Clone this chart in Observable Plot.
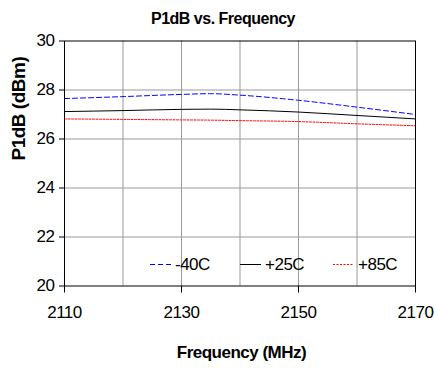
<!DOCTYPE html>
<html>
<head>
<meta charset="utf-8">
<script src="https://cdn.jsdelivr.net/npm/d3@7"></script>
<script src="https://cdn.jsdelivr.net/npm/@observablehq/plot@0.6"></script>
<style>
  body { margin: 0; background: #fff; font-family: "Liberation Sans", Arial, sans-serif; }
  #wrap { position: relative; width: 435px; height: 368px; }
  #title { height: 28px; box-sizing: border-box; padding-top: 10px; line-height: 18px; font-size: 16px; font-weight: bold; letter-spacing: -0.5px; text-align: center; padding-left: 11px; }
  .leg { position: absolute; top: 255px; height: 20px; display: flex; align-items: center; font-size: 17px; letter-spacing: -0.5px; }
  .leg svg { margin-right: 4px; }
</style>
</head>
<body>
<div id="wrap">
  <div id="title">P1dB vs. Frequency</div>
  <div id="chart"></div>
</div>
<script>
const freq = [2110, 2120, 2130, 2135, 2140, 2150, 2160, 2170];
const pm40 = [27.65, 27.73, 27.82, 27.85, 27.79, 27.58, 27.30, 27.00];
const p25  = [27.12, 27.16, 27.21, 27.22, 27.19, 27.10, 26.96, 26.82];
const p85  = [26.82, 26.80, 26.78, 26.77, 26.75, 26.71, 26.62, 26.54];
const seriesNames = ["-40C", "+25C", "+85C"];
const seriesColors = ["#0000ff", "#000000", "#ff0000"];
const seriesDash = ["5,3", null, "2,1.5"];
const xTicks = [2110, 2130, 2150, 2170];
const xGrid = [2120, 2130, 2140, 2150, 2160];
const yTicks = [20, 22, 24, 26, 28, 30];
const yGrid = [22, 24, 26, 28];

const allSeries = [pm40, p25, p85];
const lineMarks = allSeries.map((vals, i) =>
  Plot.lineY(freq.map((f, j) => ({f, v: vals[j]})), {
    x: "f", y: "v", stroke: seriesColors[i], strokeWidth: 1,
    strokeDasharray: seriesDash[i] || undefined, curve: "monotone-x"
  })
);

const chart = Plot.plot({
  width: 435,
  height: 340,
  marginTop: 12.5,
  marginLeft: 64,
  marginRight: 20,
  marginBottom: 82.5,
  style: { fontFamily: "Liberation Sans, Arial, sans-serif", background: "#fff" },
  x: { domain: [2110, 2170] },
  y: { domain: [20, 30] },
  marks: [
    Plot.gridX(xGrid, { stroke: "#999", strokeOpacity: 1 }),
    Plot.gridY(yGrid, { stroke: "#999", strokeOpacity: 1 }),
    ...lineMarks,
    Plot.frame({ stroke: "#000" }),
    Plot.axisX(xTicks, { tickSize: 7, tickPadding: 13, fontSize: 17, label: null, stroke: "#000", color: "#000", tickFormat: d => String(d) }),
    Plot.axisY(yTicks, { tickSize: 5, tickPadding: 5, fontSize: 17, label: null, stroke: "#000", color: "#000" }),
    Plot.text(["Frequency (MHz)"], { frameAnchor: "bottom", dy: 71.5, dx: 1.5, fontSize: 17, fontWeight: "bold", fill: "#000" }),
    Plot.text(["P1dB (dBm)"], { frameAnchor: "left", rotate: -90, dx: -46, dy: -3, fontSize: 19, fontWeight: "bold", fill: "#000" })
  ]
});
document.getElementById("chart").appendChild(chart);
chart.querySelectorAll("text").forEach(t => t.style.letterSpacing = "-0.5px");

// legend inside the plot area
const legLeft = [150, 240, 333];
const wrap = document.getElementById("wrap");
seriesNames.forEach((name, i) => {
  const d = document.createElement("div");
  d.className = "leg";
  d.style.left = legLeft[i] + "px";
  const dash = seriesDash[i] ? ` stroke-dasharray="${seriesDash[i]}"` : "";
  d.innerHTML = `<svg width="21" height="8"><line x1="0" y1="3.5" x2="21" y2="3.5" stroke="${seriesColors[i]}" stroke-width="1"${dash}/></svg><span>${name}</span>`;
  wrap.appendChild(d);
});
</script>
</body>
</html>
